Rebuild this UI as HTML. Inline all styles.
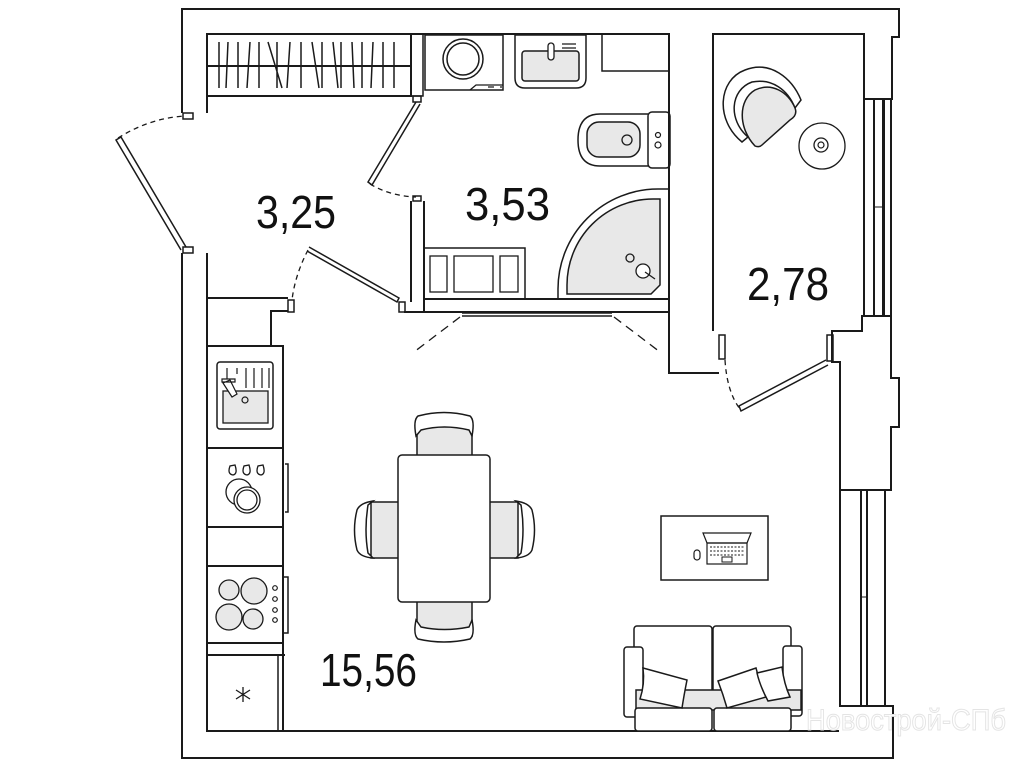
<!DOCTYPE html>
<html><head><meta charset="utf-8"><style>
html,body{margin:0;padding:0;background:#fff;}
svg{display:block;}
text{font-family:"Liberation Sans",sans-serif;}
</style></head><body>
<svg width="1019" height="768" viewBox="0 0 1019 768" xmlns="http://www.w3.org/2000/svg" fill="none" stroke="#1a1a1a" stroke-width="2">
<path d="M182,113 V9 H899 V37 H892 V99 H864"/>
<path d="M207,113 V34 H669 V373 H719"/>
<path d="M713,331 V34 H864 V99"/>
<path d="M182,253 V758 H893 V706 H839"/>
<path d="M207,253 V731 H839"/>
<rect x="183" y="113" width="10" height="6" stroke-width="1.5"/>
<rect x="183" y="247" width="10" height="6" stroke-width="1.5"/>
<path d="M186,247 L121,137 L116,140 L181,250" stroke-width="1.5"/>
<path d="M118,138 Q150,118 185,116" stroke-dasharray="5,4" stroke-width="1.3"/>
<path d="M864,99 V316 M874,99 V316 M883,99 V316 M884,99 V316 M891,99 V316"/>
<path d="M874,207 H883" stroke-width="1"/>
<path d="M832,331 H862 V316 H891 V378 H899 V427 H891 V490 H840 V362 H832 Z"/>
<rect x="827" y="335" width="6" height="26" stroke-width="1.5"/>
<rect x="719" y="335" width="6" height="24" stroke-width="1.5"/>
<path d="M840,490 V706 M861,490 V706 M867,490 V706 M885,490 V706"/>
<path d="M861,597 H867" stroke-width="1"/>
<path d="M826,360 L739,406 L741,411 L828,365" stroke-width="1.5"/>
<path d="M725,360 Q727,392 740,409" stroke-dasharray="5,4" stroke-width="1.3"/>
<rect x="207" y="34" width="204" height="62"/>
<path d="M207,66 H411"/>
<rect x="411" y="34" width="12" height="62" stroke-width="1.5"/>
<g stroke-width="1.5">
<path d="M219,42 V88 M228,42 L226,88 M238,42 V88 M250,42 L247,88 M259,42 V88 M268,42 L282,88 M277,42 V88 M290,42 L287,88 M301,42 V88 M312,42 L319,88 M322,42 V88 M333,42 L338,88 M341,42 V88 M352,42 L354,88 M362,42 V88 M373,42 L371,88 M383,42 V88 M394,42 V88"/>
</g>
<rect x="413" y="96" width="8" height="6" stroke-width="1.5"/>
<path d="M416,102 L368,182 L372,185 L420,104" stroke-width="1.5"/>
<path d="M370,184 Q390,196 416,197" stroke-dasharray="5,4" stroke-width="1.3"/>
<rect x="413" y="196" width="8" height="5" stroke-width="1.5"/>
<path d="M411,201 V302 M424,201 V312"/>
<path d="M424,299 H669 M404,312 H669"/>
<rect x="399" y="302" width="6" height="10" stroke-width="1.5"/>
<path d="M307,251 L397,302 L399,298 L309,247" stroke-width="1.5"/>
<path d="M308,250 Q295,275 292,300" stroke-dasharray="5,4" stroke-width="1.3"/>
<rect x="288" y="300" width="6" height="12" stroke-width="1.5"/>
<path d="M207,298 H288 M288,311 H271 V346"/>
<rect x="425" y="35" width="78" height="55" stroke-width="1.5"/>
<circle cx="463" cy="59" r="20" stroke-width="1.5"/>
<circle cx="463" cy="59" r="16" stroke-width="1.5"/>
<path d="M470,90 L476,85 H503 M488,87 H494 M500,87 H502" stroke-width="1.3"/>
<path d="M515,35 H586 V78 Q586,88 576,88 H525 Q515,88 515,78 Z" stroke-width="1.5"/>
<rect x="522" y="51" width="57" height="30" rx="3" fill="#e8e8e8" stroke-width="1.5"/>
<rect x="548" y="43" width="6" height="17" rx="3" fill="#fff" stroke-width="1.3"/>
<path d="M562,44 H576 M562,48 H576" stroke-width="1.3"/>
<rect x="602" y="34" width="67" height="37" stroke-width="1.5"/>
<rect x="648" y="112" width="22" height="56" rx="4" stroke-width="1.5"/>
<path d="M648,114 H600 Q578,114 578,140 Q578,166 600,166 H648" stroke-width="1.5"/>
<rect x="587" y="122" width="53" height="35" rx="12" fill="#e8e8e8" stroke-width="1.5"/>
<circle cx="627" cy="140" r="5" stroke-width="1.3"/>
<circle cx="658" cy="135" r="2.5" stroke-width="1.2"/>
<circle cx="658" cy="145" r="3" stroke-width="1.2"/>
<path d="M558,299 V289 A100,100 0 0 1 658,189 H669" stroke-width="1.5"/>
<path d="M567,289 V285 A86,86 0 0 1 653,199 H660 V285 L651,294 H567 Z" fill="#e8e8e8" stroke-width="1.5"/>
<circle cx="630" cy="258" r="4" stroke-width="1.3"/>
<circle cx="643" cy="271" r="7" fill="#fff" stroke-width="1.3"/>
<path d="M645,272 L655,279" stroke-width="1.3"/>
<rect x="424" y="248" width="101" height="51" stroke-width="1.5"/>
<rect x="430" y="256" width="17" height="36" stroke-width="1.3"/>
<rect x="454" y="256" width="39" height="36" stroke-width="1.3"/>
<rect x="500" y="256" width="18" height="36" stroke-width="1.3"/>
<path d="M462,313 H612 M462,316 H612" stroke-width="1.5"/>
<path d="M460,317 L414,352 M614,317 L660,352" stroke-dasharray="9,6" stroke-width="1.3"/>
<!-- balcony chair -->
<path d="M742,142 C715,120 718,80 745,70 C770,60 792,78 801,100 L795,108 C788,90 772,78 752,82 C730,90 728,120 748,137 Z" stroke-width="1.5"/>
<path d="M755,146 C738,128 738,100 755,90 C772,82 788,92 795,108 C797,113 795,117 790,120 L762,145 C760,147 757,147 755,146 Z" fill="#e8e8e8" stroke-width="1.5"/>
<circle cx="822" cy="146" r="23" stroke-width="1.3"/>
<circle cx="821" cy="145" r="7" stroke-width="1.3"/>
<circle cx="821" cy="145" r="3" stroke-width="1.2"/>
<path d="M206,346 H283 V731"/>
<path d="M206,448 H283 M206,527 H283 M206,566 H283 M206,643 H283 M206,655 H285"/>
<rect x="217" y="362" width="56" height="67" rx="3" stroke-width="1.5"/>
<rect x="223" y="391" width="45" height="32" fill="#e8e8e8" stroke-width="1.3"/>
<path d="M227,368 V380 M237,368 V374 M246,368 V388 M254,368 V388 M262,368 V388 M269,368 V388" stroke-width="1.2"/>
<path d="M223,383 L232,397 L237,394 L230,380 Z M222,382 H235 V379 H222 Z" fill="#fff" stroke-width="1.2"/>
<circle cx="245" cy="400" r="3" stroke-width="1.2"/>
<path d="M285,464 H288 V512 H285" stroke-width="1.5"/>
<g stroke-width="1.3">
<path d="M230,466 Q227,474 233,475 Q238,474 235,465 Z M244,466 Q241,474 247,475 Q252,474 249,465 Z M258,466 Q255,474 261,475 Q266,474 263,465 Z"/>
<circle cx="239" cy="492" r="13"/>
<circle cx="247" cy="500" r="13" fill="#fff"/>
<circle cx="247" cy="500" r="10"/>
</g>
<path d="M284,577 H288 V633 H284" stroke-width="1.5"/>
<g stroke-width="1.3" fill="#e8e8e8">
<circle cx="229" cy="590" r="10"/>
<circle cx="254" cy="591" r="13"/>
<circle cx="229" cy="617" r="13"/>
<circle cx="253" cy="619" r="10"/>
</g>
<g stroke-width="1.2"><circle cx="275" cy="588" r="2.3"/><circle cx="275" cy="599" r="2.3"/><circle cx="275" cy="610" r="2.3"/><circle cx="275" cy="620" r="2.3"/></g>
<path d="M207,656 V731 M278,656 V731" stroke-width="1.5"/>
<path d="M243,687 V702 M236,690 L250,699 M250,690 L236,699" stroke-width="1.3"/>
<g stroke-width="1.5">
<rect x="417" y="421" width="55" height="35" fill="#e8e8e8"/>
<path d="M416,436 Q413,420 418,416 Q444,409 470,416 Q475,420 472,436 L469,430 Q444,424 421,430 Z" fill="#fff"/>
<rect x="417" y="600" width="55" height="36" fill="#e8e8e8"/>
<path d="M416,620 Q413,635 418,639 Q444,645 470,639 Q475,635 472,620 L469,627 Q444,632 421,627 Z" fill="#fff"/>
<rect x="371" y="502" width="29" height="56" fill="#e8e8e8"/>
<path d="M373,501 Q360,503 357,510 Q352,530 357,550 Q360,557 373,558 L368,553 Q364,530 368,505 Z" fill="#fff"/>
<rect x="489" y="502" width="29" height="56" fill="#e8e8e8"/>
<path d="M516,501 Q529,503 532,510 Q537,530 532,550 Q529,557 516,558 L521,553 Q525,530 521,505 Z" fill="#fff"/>
<rect x="398" y="455" width="92" height="147" rx="4" fill="#fff"/>
</g>
<rect x="661" y="516" width="107" height="64" stroke-width="1.5"/>
<path d="M703,533 H751 L747,543 H707 Z" stroke-width="1.2"/>
<rect x="707" y="543" width="40" height="21" stroke-width="1.2"/>
<path d="M710,547 H744 M710,551 H744 M710,555 H744" stroke-dasharray="2,1.5" stroke-width="1"/>
<rect x="722" y="557" width="10" height="5" stroke-width="1"/>
<rect x="694" y="550" width="6" height="10" rx="3" stroke-width="1.2"/>
<g stroke-width="1.5">
<rect x="634" y="626" width="78" height="85" rx="3"/>
<rect x="713" y="626" width="78" height="85" rx="3"/>
<rect x="624" y="647" width="19" height="70" rx="3" fill="#fff"/>
<rect x="783" y="646" width="19" height="70" rx="3" fill="#fff"/>
<rect x="636" y="690" width="165" height="20" fill="#e8e8e8"/>
<rect x="635" y="708" width="77" height="23" rx="3" fill="#fff"/>
<rect x="714" y="708" width="77" height="23" rx="3" fill="#fff"/>
<path d="M643,668 L687,680 Q684,695 682,708 L640,699 Q645,684 643,668 Z" fill="#fff"/>
<path d="M718,681 L756,668 Q760,684 766,697 L727,708 Q723,694 718,681 Z" fill="#fff"/>
<path d="M757,673 L782,667 Q784,684 790,697 L768,701 Q760,686 757,673 Z" fill="#fff"/>
</g>
<g fill="#111" stroke="none" font-size="46">
<text x="256" y="228" textLength="80" lengthAdjust="spacingAndGlyphs">3,25</text>
<text x="465" y="220" textLength="85" lengthAdjust="spacingAndGlyphs">3,53</text>
<text x="747" y="300" textLength="82" lengthAdjust="spacingAndGlyphs">2,78</text>
<text x="320" y="686" textLength="97" lengthAdjust="spacingAndGlyphs">15,56</text>
</g>
<text x="806" y="730" font-size="30" fill="#fff" stroke="#e4e4e4" stroke-width="1" textLength="200" lengthAdjust="spacingAndGlyphs">Новострой-СПб</text>
</svg>
</body></html>
